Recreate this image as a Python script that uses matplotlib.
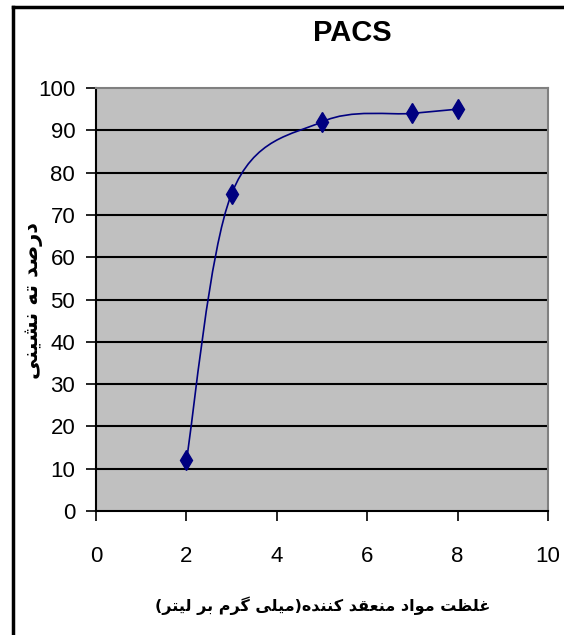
import matplotlib
matplotlib.use("Agg")
import matplotlib.pyplot as plt
from matplotlib.path import Path
from matplotlib.patches import PathPatch
from matplotlib.lines import Line2D

# coagulant dose vs. settling efficiency
conc = [2, 3, 5, 7, 8]
removal = [12, 75, 92, 94, 95]
x_ticks = [0, 2, 4, 6, 8, 10]
y_ticks = list(range(0, 101, 10))
title = "PACS"
x_label = "غلظت مواد منعقد کننده(میلی گرم بر لیتر)"
y_label = "درصد ته نشینی"

# arabic presentation forms: isolated, final, initial, medial
FORMS = {
    'ا': (0xFE8D, 0xFE8E, None, None),
    'ب': (0xFE8F, 0xFE90, 0xFE91, 0xFE92),
    'ت': (0xFE95, 0xFE96, 0xFE97, 0xFE98),
    'د': (0xFEA9, 0xFEAA, None, None),
    'ر': (0xFEAD, 0xFEAE, None, None),
    'ش': (0xFEB5, 0xFEB6, 0xFEB7, 0xFEB8),
    'ص': (0xFEB9, 0xFEBA, 0xFEBB, 0xFEBC),
    'ظ': (0xFEC5, 0xFEC6, 0xFEC7, 0xFEC8),
    'ع': (0xFEC9, 0xFECA, 0xFECB, 0xFECC),
    'غ': (0xFECD, 0xFECE, 0xFECF, 0xFED0),
    'ق': (0xFED5, 0xFED6, 0xFED7, 0xFED8),
    'ل': (0xFEDD, 0xFEDE, 0xFEDF, 0xFEE0),
    'م': (0xFEE1, 0xFEE2, 0xFEE3, 0xFEE4),
    'ن': (0xFEE5, 0xFEE6, 0xFEE7, 0xFEE8),
    'ه': (0xFEE9, 0xFEEA, 0xFEEB, 0xFEEC),
    'و': (0xFEED, 0xFEEE, None, None),
    'ی': (0xFBFC, 0xFBFD, 0xFBFE, 0xFBFF),
    'ک': (0xFB8E, 0xFB8F, 0xFB90, 0xFB91),
    'گ': (0xFB92, 0xFB93, 0xFB94, 0xFB95),
}
MIRROR = {'(': ')', ')': '('}


def shape(text):
    # join letters and put them in visual (left to right) order
    out = []
    for i, c in enumerate(text):
        if c not in FORMS:
            out.append(MIRROR.get(c, c))
            continue
        prev = text[i - 1] if i > 0 else None
        nxt = text[i + 1] if i + 1 < len(text) else None
        join_prev = prev in FORMS and FORMS[prev][2] is not None
        join_next = nxt in FORMS and FORMS[c][2] is not None
        iso, fin, ini, med = FORMS[c]
        if join_prev and join_next:
            g = med
        elif join_prev:
            g = fin
        elif join_next:
            g = ini
        else:
            g = iso
        out.append(chr(g))
    return ''.join(reversed(out))


def smooth_path(xs, ys):
    # excel-like smoothed line as cubic bezier segments
    pts = list(zip(xs, ys))
    n = len(pts)
    verts = [pts[0]]
    codes = [Path.MOVETO]
    for i in range(n - 1):
        p0 = pts[max(i - 1, 0)]
        p1 = pts[i]
        p2 = pts[i + 1]
        p3 = pts[min(i + 2, n - 1)]
        c1 = (p1[0] + (p2[0] - p0[0]) / 6, p1[1] + (p2[1] - p0[1]) / 6)
        c2 = (p2[0] - (p3[0] - p1[0]) / 6, p2[1] - (p3[1] - p1[1]) / 6)
        verts += [c1, c2, p2]
        codes += [Path.CURVE4] * 3
    return Path(verts, codes)


narrow = ['Liberation Sans Narrow', 'Liberation Sans', 'DejaVu Sans']

fig = plt.figure(figsize=(5.64, 6.35), dpi=100)
ax = fig.add_axes([96 / 564, 124 / 635, 452 / 564, 423 / 635])
ax.set_facecolor('#C0C0C0')

for y in y_ticks[1:-1]:
    ax.axhline(y, color='black', lw=1.5, zorder=1)

ax.add_patch(PathPatch(smooth_path(conc, removal), facecolor='none',
                       edgecolor='#000080', lw=1.2, zorder=3))
ax.plot(conc, removal, linestyle='none', marker='d', markersize=10,
        color='#000080', zorder=4)

ax.set_xlim(0, 10)
ax.set_ylim(0, 100)
ax.set_xticks(x_ticks)
ax.set_yticks(y_ticks)
ax.tick_params(direction='out', length=7, width=1.2, colors='black',
               labelsize=16)
ax.tick_params(axis='x', pad=18)
ax.tick_params(axis='y', pad=8)
for lab in ax.get_xticklabels() + ax.get_yticklabels():
    lab.set_family(narrow)

for side in ('top', 'right'):
    ax.spines[side].set_color('#808080')
    ax.spines[side].set_linewidth(1.5)
for side in ('left', 'bottom'):
    ax.spines[side].set_color('black')
    ax.spines[side].set_linewidth(1.5)

fig.text(352 / 564, 1 - 33 / 635, title, ha='center', va='center',
         fontsize=21, fontweight='bold', family=narrow)
fig.text(323 / 564, 1 - 606 / 635, shape(x_label), ha='center', va='center',
         fontsize=11.5, fontweight='bold', family=['DejaVu Sans'])
fig.text(33 / 564, 1 - 300 / 635, shape(y_label), ha='center', va='center',
         rotation=90, fontsize=15, fontweight='bold', family=['DejaVu Sans'])

# outer frame, left and top edges
fig.add_artist(Line2D([12.5 / 564, 12.5 / 564], [0, 1 - 7 / 635],
                      color='black', lw=2.5))
fig.add_artist(Line2D([12.5 / 564, 1], [1 - 7 / 635, 1 - 7 / 635],
                      color='black', lw=2.5))

fig.savefig('out.png', dpi=100)
